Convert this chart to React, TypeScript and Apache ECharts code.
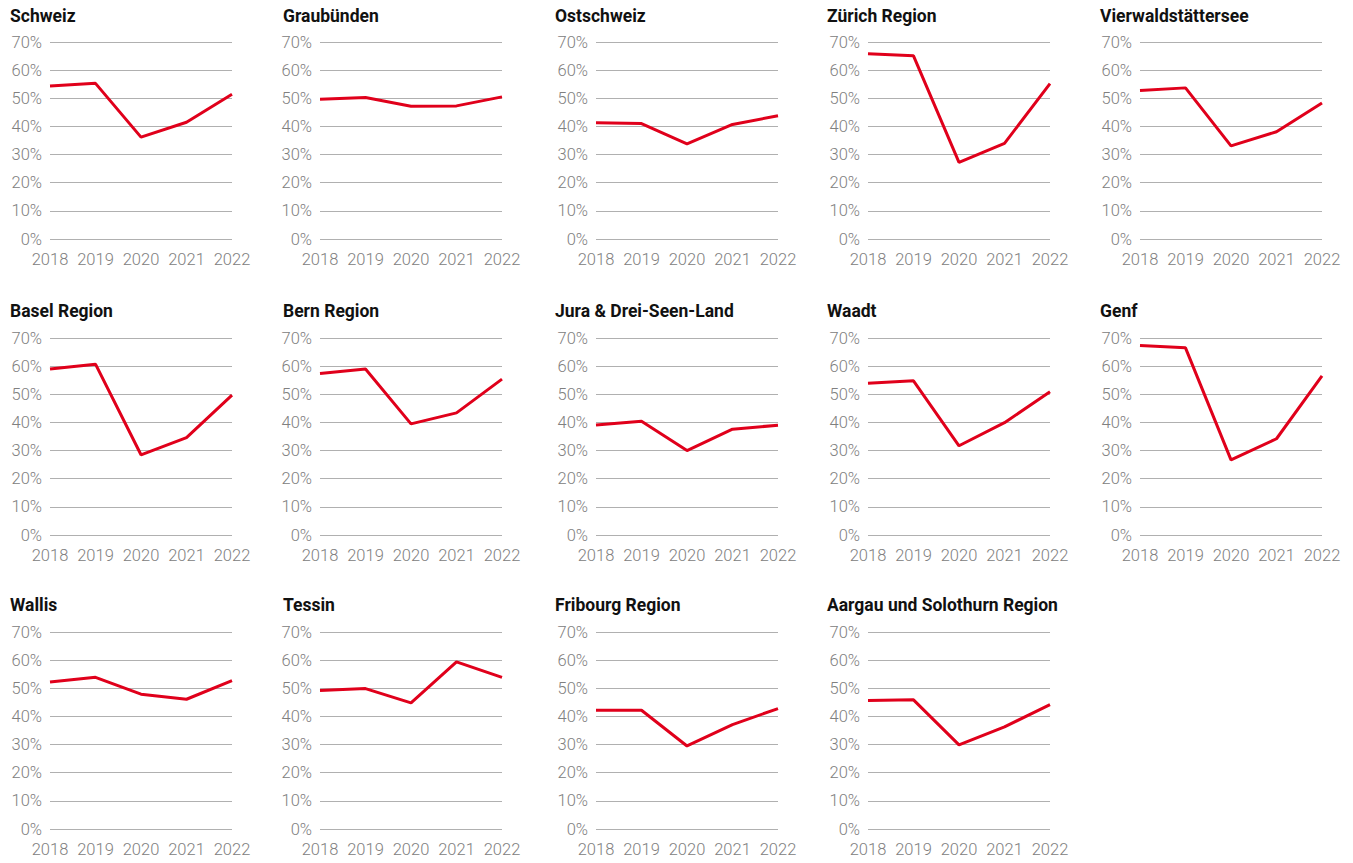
import React, { useEffect, useRef } from "react";
import * as echarts from "echarts";

const years = ["2018", "2019", "2020", "2021", "2022"];
const yTicks = [0, 10, 20, 30, 40, 50, 60, 70];

const regions = [
  "Schweiz",
  "Graubünden",
  "Ostschweiz",
  "Zürich Region",
  "Vierwaldstättersee",
  "Basel Region",
  "Bern Region",
  "Jura & Drei-Seen-Land",
  "Waadt",
  "Genf",
  "Wallis",
  "Tessin",
  "Fribourg Region",
  "Aargau und Solothurn Region",
];

const schweiz = [54.4, 55.3, 36.2, 41.5, 51.4];
const graubuenden = [49.7, 50.3, 47.2, 47.3, 50.5];
const ostschweiz = [41.3, 41.0, 33.8, 40.7, 43.8];
const zuerich = [65.8, 65.1, 27.2, 34.0, 55.2];
const vierwaldstaettersee = [52.8, 53.7, 33.1, 38.1, 48.3];
const basel = [59.0, 60.7, 28.5, 34.6, 49.7];
const bern = [57.4, 59.0, 39.5, 43.4, 55.4];
const jura = [39.1, 40.4, 30.0, 37.6, 39.0];
const waadt = [53.9, 54.8, 31.7, 39.9, 50.9];
const genf = [67.3, 66.5, 26.7, 34.2, 56.5];
const wallis = [52.2, 53.9, 47.9, 46.1, 52.7];
const tessin = [49.2, 49.9, 44.8, 59.4, 53.9];
const fribourg = [42.2, 42.2, 29.5, 37.1, 42.8];
const aargau = [45.7, 45.9, 29.9, 36.3, 44.2];

const seriesValues = [
  schweiz,
  graubuenden,
  ostschweiz,
  zuerich,
  vierwaldstaettersee,
  basel,
  bern,
  jura,
  waadt,
  genf,
  wallis,
  tessin,
  fribourg,
  aargau,
];

const gridLefts = [50, 320, 596, 868, 1140];
const titleLefts = [10, 283, 555, 827, 1100];
const gridTops = [42, 338, 632];
const titleTops = [7, 302, 596];
const GRID_W = 182;
const GRID_H = 197;

const FONT = "Roboto, 'Noto Sans', sans-serif";

export default function App() {
  const ref = useRef<HTMLDivElement>(null);

  useEffect(() => {
    if (!ref.current) return;
    const chart = echarts.init(ref.current, undefined, { renderer: "svg" });

    const titles: any[] = [];
    const grids: any[] = [];
    const xAxes: any[] = [];
    const yAxes: any[] = [];
    const series: any[] = [];

    regions.forEach((name, i) => {
      const row = Math.floor(i / 5);
      const col = i % 5;
      titles.push({
        text: name,
        left: titleLefts[col],
        top: titleTops[row],
        padding: 0,
        textStyle: {
          fontFamily: FONT,
          fontSize: 17.5,
          fontWeight: "bold",
          color: "#111",
        },
      });
      grids.push({
        left: gridLefts[col],
        top: gridTops[row],
        width: GRID_W,
        height: GRID_H,
        containLabel: false,
      });
      xAxes.push({
        type: "category",
        gridIndex: i,
        data: years,
        boundaryGap: false,
        axisLine: { show: false },
        axisTick: { show: false },
        axisLabel: {
          interval: 0,
          margin: 12,
          fontFamily: FONT,
          fontSize: 16.5,
          fontWeight: 300,
          color: "#808080",
        },
      });
      yAxes.push({
        type: "value",
        gridIndex: i,
        min: yTicks[0],
        max: yTicks[yTicks.length - 1],
        interval: 10,
        axisLine: { show: false },
        axisTick: { show: false },
        axisLabel: {
          margin: 8,
          formatter: "{value}%",
          fontFamily: FONT,
          fontSize: 16.5,
          fontWeight: 300,
          color: "#808080",
        },
        splitLine: { lineStyle: { color: "#b0b0b0", width: 1 } },
      });
      series.push({
        type: "line",
        name,
        xAxisIndex: i,
        yAxisIndex: i,
        data: seriesValues[i],
        symbol: "none",
        lineStyle: { color: "#e0001b", width: 3 },
        itemStyle: { color: "#e0001b" },
      });
    });

    chart.setOption({
      animation: false,
      backgroundColor: "#ffffff",
      title: titles,
      grid: grids,
      xAxis: xAxes,
      yAxis: yAxes,
      series,
    });

    return () => chart.dispose();
  }, []);

  return (
    <div
      ref={ref}
      style={{ position: "fixed", left: 0, top: 0, width: 1353, height: 863 }}
    />
  );
}
